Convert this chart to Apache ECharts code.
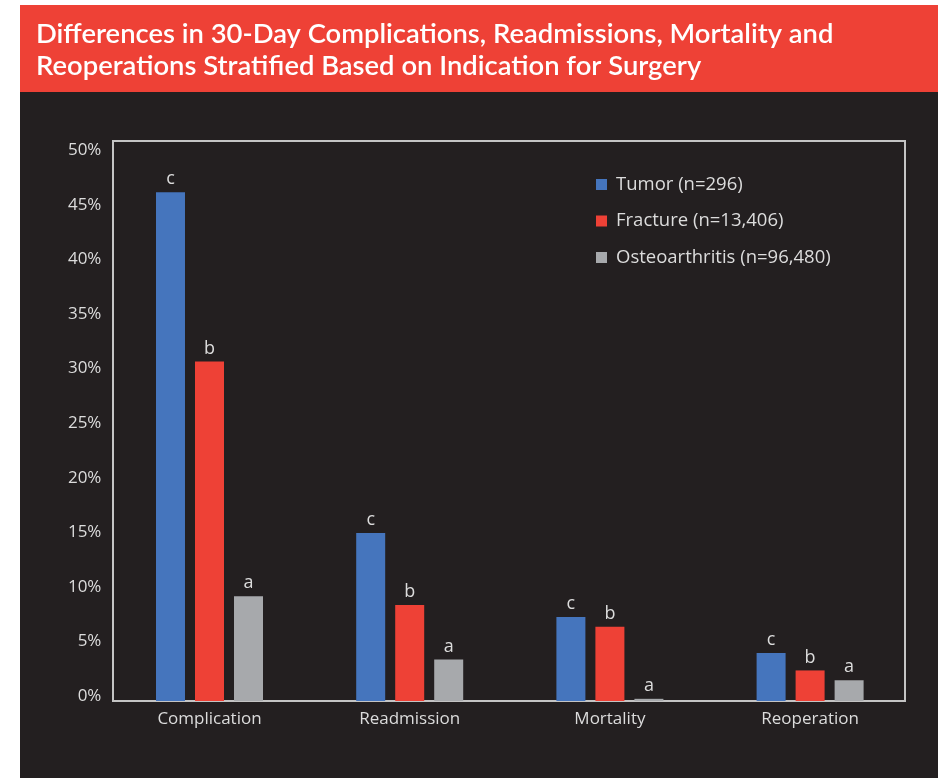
<!DOCTYPE html>
<html>
<head>
<meta charset="utf-8">
<script src="https://cdn.jsdelivr.net/npm/echarts@6/dist/echarts.min.js"></script>
<style>
  html, body { margin: 0; padding: 0; background: #ffffff; width: 938px; height: 778px; overflow: hidden; }
  #chart { position: absolute; left: 20px; top: 5px; width: 918px; height: 773px; }
</style>
</head>
<body>
<div id="chart"></div>
<script>
const titleText = 'Differences in 30-Day Complications, Readmissions, Mortality and\nReoperations Stratified Based on Indication for Surgery';
const categories = ['Complication', 'Readmission', 'Mortality', 'Reoperation'];
const seriesNames = ['Tumor (n=296)', 'Fracture (n=13,406)', 'Osteoarthritis (n=96,480)'];
const tumorValues = [46.6, 15.4, 7.7, 4.4];
const fractureValues = [31.1, 8.8, 6.8, 2.8];
const osteoValues = [9.6, 3.8, 0.2, 1.9];
const tumorLetters = ['c', 'c', 'c', 'c'];
const fractureLetters = ['b', 'b', 'b', 'b'];
const osteoLetters = ['a', 'a', 'a', 'a'];
const yTickStep = 5;

const colors = ['#4575BD', '#EE4136', '#A7A9AC'];
const textColor = '#DCDCDC';
const font = 'Open Sans';
const titleFont = 'Lato';

const chart = echarts.init(document.getElementById('chart'), null, { renderer: 'canvas' });

function makeSeries(name, values, letters, color) {
  return {
    name: name,
    type: 'bar',
    xAxisIndex: 0,
    yAxisIndex: 0,
    data: values,
    barWidth: 29,
    barGap: '34.5%',
    itemStyle: { color: color },
    label: {
      show: true,
      position: 'top',
      distance: 4,
      color: textColor,
      fontFamily: font,
      fontSize: 18,
      formatter: function (p) { return letters[p.dataIndex]; }
    }
  };
}

chart.setOption({
  backgroundColor: '#231F20',
  animation: false,
  textStyle: { fontFamily: font },
  graphic: [{
    type: 'rect',
    z: 0,
    shape: { x: 0, y: 0, width: 918, height: 87 },
    style: { fill: '#EE4136' }
  }],
  title: {
    text: titleText,
    left: 16,
    top: 13,
    z: 10,
    padding: 0,
    textStyle: {
      color: '#FFFFFF',
      fontFamily: titleFont,
      fontWeight: 600,
      fontSize: 27.4,
      lineHeight: 32
    }
  },
  legend: {
    orient: 'vertical',
    left: 576,
    top: 170,
    padding: 0,
    itemWidth: 11,
    itemHeight: 11,
    itemGap: 17.5,
    icon: 'rect',
    textStyle: { color: textColor, fontFamily: font, fontSize: 18.5, padding: [0, 0, 0, 4] },
    data: seriesNames
  },
  grid: [
    { left: 89.4, width: 800.8, top: 136, height: 560, show: false },
    { left: 93, width: 792, top: 136, height: 560, show: true, borderColor: '#C4C4C4', borderWidth: 2, backgroundColor: 'transparent' }
  ],
  xAxis: [
    {
      type: 'category',
      gridIndex: 0,
      data: categories,
      axisLine: { show: false },
      axisTick: { show: false },
      axisLabel: { color: textColor, fontFamily: font, fontSize: 17, margin: 10 }
    },
    { type: 'category', gridIndex: 1, show: false, data: categories }
  ],
  yAxis: [
    {
      type: 'value',
      gridIndex: 0,
      min: 0,
      max: 51.3,
      interval: yTickStep,
      splitLine: { show: false },
      axisLine: { show: false },
      axisTick: { show: false },
      axisLabel: {
        color: textColor,
        fontFamily: font,
        fontSize: 17,
        margin: 8,
        showMaxLabel: false,
        verticalAlign: 'bottom',
        lineHeight: 10,
        formatter: function (v) { return v + '%'; }
      }
    },
    { type: 'value', gridIndex: 1, show: false, min: 0, max: 51.3 }
  ],
  series: [
    makeSeries(seriesNames[0], tumorValues, tumorLetters, colors[0]),
    makeSeries(seriesNames[1], fractureValues, fractureLetters, colors[1]),
    makeSeries(seriesNames[2], osteoValues, osteoLetters, colors[2])
  ]
});
</script>
</body>
</html>
